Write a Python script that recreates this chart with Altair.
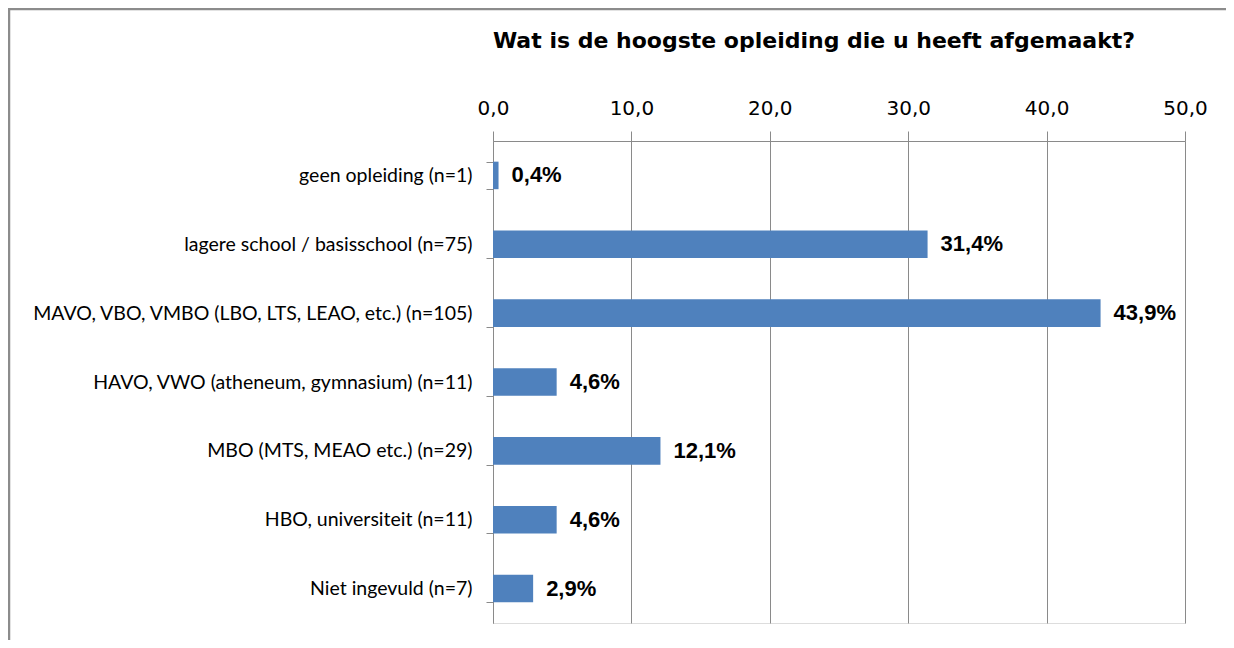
import altair as alt
import pandas as pd

categories = [
    "geen opleiding (n=1)",
    "lagere school / basisschool (n=75)",
    "MAVO, VBO, VMBO (LBO, LTS, LEAO, etc.) (n=105)",
    "HAVO, VWO (atheneum, gymnasium) (n=11)",
    "MBO (MTS, MEAO etc.) (n=29)",
    "HBO, universiteit (n=11)",
    "Niet ingevuld (n=7)",
]
values = [0.4, 31.4, 43.9, 4.6, 12.1, 4.6, 2.9]
x_ticks = [0, 10, 20, 30, 40, 50]
title_text = "Wat is de hoogste opleiding die u heeft afgemaakt?"

df = pd.DataFrame({"cat": categories, "val": values})

PLOT_W = 692
PLOT_H = 482
LEFT = 485
TOP = 133
RIGHT = 1218 - LEFT - PLOT_W
BOTTOM = 632 - TOP - PLOT_H

x_enc = alt.X(
    "val:Q",
    scale=alt.Scale(domain=[0, 50], nice=False, zero=True),
    axis=alt.Axis(
        orient="top",
        values=x_ticks,
        labelExpr="replace(format(datum.value, '.1f'), '.', ',')",
        title=None,
        grid=True,
        gridColor="#8a8a8a",
        gridWidth=1,
        domainColor="#8a8a8a",
        tickColor="#8a8a8a",
        tickSize=10,
        labelPadding=13,
        labelFlush=False,
        labelFont="DejaVu Sans",
        labelFontSize=20,
        labelColor="#000000",
    ),
)

y_enc = alt.Y(
    "cat:N",
    sort=categories,
    scale=alt.Scale(paddingInner=0.6, paddingOuter=0.3),
    axis=alt.Axis(
        title=None,
        grid=False,
        tickBand="extent",
        domainColor="#8a8a8a",
        tickColor="#8a8a8a",
        tickSize=7,
        labelPadding=14,
        labelFont="Lato",
        labelFontSize=19.5,
        labelColor="#000000",
        labelLimit=600,
    ),
)

bars = alt.Chart(df).mark_bar(color="#4F81BD").encode(x=x_enc, y=y_enc)

labels = (
    alt.Chart(df)
    .transform_calculate(lbl="replace(format(datum.val, '.1f'), '.', ',') + '%'")
    .mark_text(
        align="left",
        baseline="middle",
        dx=13,
        font="Liberation Sans",
        fontSize=22,
        fontWeight="bold",
        color="#000000",
    )
    .encode(x="val:Q", y=alt.Y("cat:N", sort=categories), text="lbl:N")
)

one = pd.DataFrame({"d": [0]})

frame = (
    alt.Chart(one)
    .mark_rect(fill="#ffffff", fillOpacity=0, stroke="#8c8c8c", strokeWidth=2.5)
    .encode(
        x=alt.value(1 - LEFT),
        x2=alt.value(1260 - LEFT),
        y=alt.value(1 - TOP),
        y2=alt.value(700 - TOP),
    )
)

title = (
    alt.Chart(one)
    .transform_calculate(t="'" + title_text.replace("'", "\\'") + "'")
    .mark_text(
        align="center",
        baseline="alphabetic",
        font="DejaVu Sans",
        fontSize=22,
        fontWeight="bold",
        color="#000000",
    )
    .encode(
        x=alt.value(814 - 8 - LEFT),
        y=alt.value(48 - 8 - TOP),
        text="t:N",
    )
)

chart = (
    alt.layer(frame, bars, labels, title)
    .properties(
        width=PLOT_W,
        height=PLOT_H,
        padding={"left": LEFT, "top": TOP, "right": RIGHT, "bottom": BOTTOM},
        autosize=alt.AutoSizeParams(type="none"),
    )
    .configure_view(stroke=None)
    .configure(background="#ffffff")
)

chart.save("out.html", embed_options={"renderer": "svg", "actions": False})
